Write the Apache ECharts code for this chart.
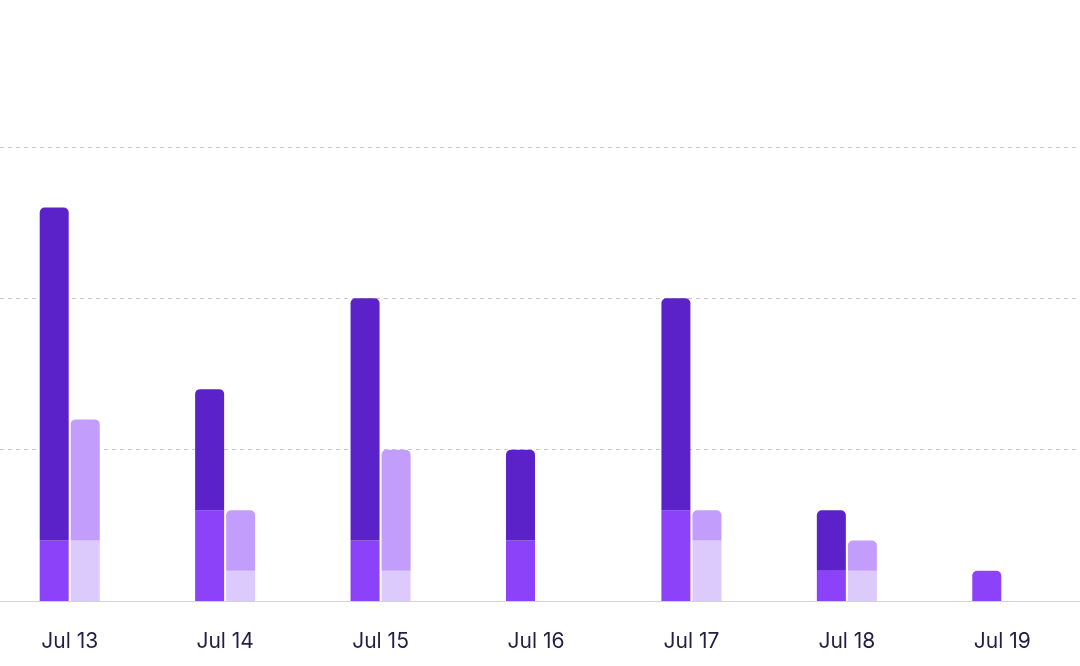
<!DOCTYPE html>
<html>
<head>
<meta charset="utf-8">
<style>
  html, body { margin: 0; padding: 0; background: #ffffff; overflow: hidden; }
  #chart { width: 1088px; height: 666px; margin-left: -8px; }
</style>
<script src="https://cdn.jsdelivr.net/npm/echarts@6/dist/echarts.min.js"></script>
</head>
<body>
<div id="chart"></div>
<script>
// categories and stacked values
const days = ["Jul 13", "Jul 14", "Jul 15", "Jul 16", "Jul 17", "Jul 18", "Jul 19"];
const leftBase = [2, 3, 2, 2, 3, 1, 1];
const leftTop = [11, 4, 8, 3, 7, 2, 0];
const rightBase = [2, 1, 1, 0, 2, 1, 0];
const rightTop = [4, 2, 4, 0, 1, 1, 0];
const yTicks = [0, 5, 10, 15];

const radius = [5, 5, 0, 0];

// bottom segment gets the rounded top only when nothing sits on it
function baseData(base, top) {
  return base.map((v, i) => ({
    value: v,
    itemStyle: { borderRadius: top[i] ? 0 : radius }
  }));
}

let chart = echarts.init(document.getElementById("chart"));
let option = {
  animation: false,
  grid: { left: 0, right: 0, top: 147, bottom: 65, containLabel: false },
  xAxis: {
    type: "category",
    data: days,
    axisTick: { show: false },
    axisLine: { lineStyle: { color: "#d3d2d8", width: 1 } },
    axisLabel: {
      color: "#221e44",
      fontSize: 21,
      fontFamily: "Inter",
      margin: 30
    }
  },
  yAxis: {
    type: "value",
    min: yTicks[0],
    max: yTicks[yTicks.length - 1],
    interval: 5,
    axisLabel: { show: false },
    axisLine: { show: false },
    axisTick: { show: false },
    splitLine: {
      lineStyle: { color: "#c9c8ce", type: [4, 4], width: 1 }
    }
  },
  series: [
    {
      type: "bar", stack: "a", barWidth: 29, barGap: "7%",
      data: baseData(leftBase, leftTop),
      itemStyle: { color: "#8b42f8" }
    },
    {
      type: "bar", stack: "a", barWidth: 29,
      data: leftTop,
      itemStyle: { color: "#5a22c8", borderRadius: radius }
    },
    {
      type: "bar", stack: "b", barWidth: 29,
      data: baseData(rightBase, rightTop),
      itemStyle: { color: "#dccafd" }
    },
    {
      type: "bar", stack: "b", barWidth: 29,
      data: rightTop,
      itemStyle: { color: "#c29dfb", borderRadius: radius }
    }
  ]
};
chart.setOption(option);
</script>
</body>
</html>
